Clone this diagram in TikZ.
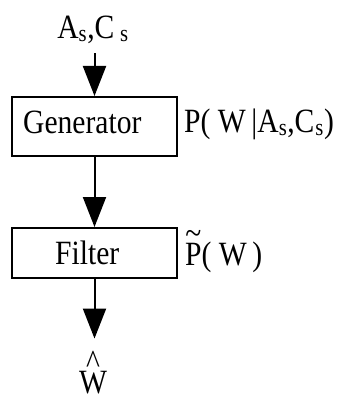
\documentclass[tikz,border=0pt]{standalone}
\usepackage{fontspec}
\setmainfont[FakeStretch=0.87]{Liberation Serif}
\usetikzlibrary{arrows.meta}
% letter with an accent set well above it
\newsavebox\accbase
\newcommand\highacc[3]{\sbox\accbase{#1}\usebox\accbase\kern-\wd\accbase
  \makebox[\wd\accbase]{\raisebox{#3}{#2}}}
\begin{document}
\begin{tikzpicture}[x=1pt,y=-1pt,
  every node/.style={font=\fontsize{34}{38}\selectfont, inner sep=0pt},
  blockbox/.style={draw, line width=2pt},
  flow/.style={line width=2pt, -{Triangle[length=30pt,width=23pt]}}]
  \useasboundingbox (0,0) rectangle (344,396);
  % blocks
  \node[blockbox, minimum width=165pt, minimum height=59pt] (gen) at (94.5,126.5) {};
  \node[anchor=base west] (gentext) at (23,133) {Generator};
  \node[blockbox, minimum width=165pt, minimum height=50pt] (filt) at (94.5,253) {};
  \node[anchor=base west] (filttext) at (55,264) {Filter};
  % input, output and annotations
  \node[anchor=base] (in) at (93,38) {A\textsubscript{s},C\,\textsubscript{s}};
  \node[anchor=base west] (pgen) at (184,132)
    {P(~W\,|A\textsubscript{s},C\kern1pt\textsubscript{s})};
  \node[anchor=base west] (pfilt) at (185,265) {\highacc{P}{\~{}}{21pt}(~W\,)};
  \node[anchor=base] (out) at (93,393) {\highacc{W}{\^{}}{20pt}};
  % connectors
  \draw[flow, shorten <=10pt] (in.south -| gen.north) -- (gen.north);
  \draw[flow] (gen.south) -- (filt.north);
  \draw[flow, shorten >=12pt] (filt.south) -- (filt.south |- out.north);
\end{tikzpicture}
\end{document}
